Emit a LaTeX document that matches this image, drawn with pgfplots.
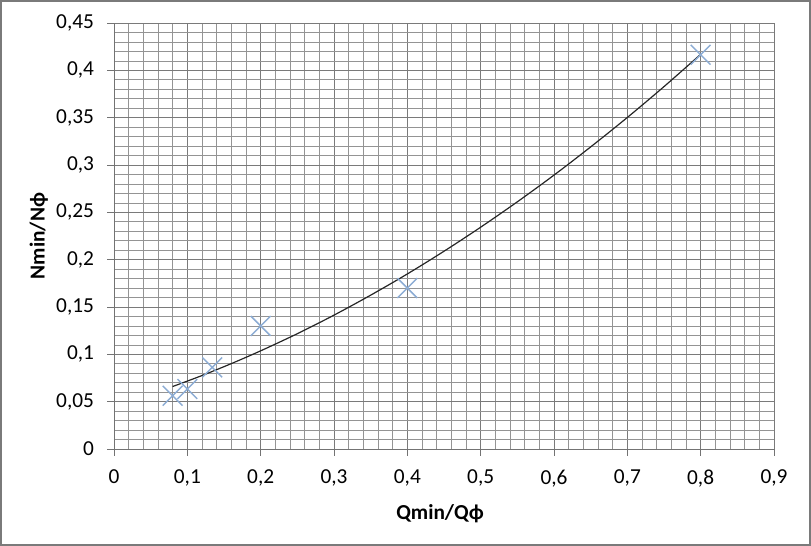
\documentclass[border=0pt]{standalone}
\usepackage{fontspec}
\setmainfont{Carlito}
\usepackage{pgfplots}
\pgfplotsset{compat=1.18}
\definecolor{mk}{RGB}{140,172,212}
\begin{document}
\begin{tikzpicture}
\useasboundingbox (-85.5pt,-72.75pt) rectangle (522.75pt,336.75pt);
\draw[black!52, line width=1.5pt] (-84.5pt,-71.75pt) rectangle (521.75pt,335.75pt);
\begin{axis}[
  scale only axis, width=495pt, height=319.5pt,
  xmin=0, xmax=0.9, ymin=0, ymax=0.45,
  xtick={0,0.1,0.2,0.3,0.4,0.5,0.6,0.7,0.8,0.9},
  xticklabels={0,{0,1},{0,2},{0,3},{0,4},{0,5},{0,6},{0,7},{0,8},{0,9}},
  ytick={0,0.05,0.1,0.15,0.2,0.25,0.3,0.35,0.4,0.45},
  yticklabels={0,{0,05},{0,1},{0,15},{0,2},{0,25},{0,3},{0,35},{0,4},{0,45}},
  minor x tick num=4, minor y tick num=4,
  grid=both,
  major grid style={black!52, line width=0.6pt},
  minor grid style={black!42, line width=0.5pt},
  axis lines*=left,
  axis line style={-, black!55, line width=0.7pt},
  tick align=outside,
  major tick length=5pt, minor tick length=0pt,
  tick style={black!55, line width=0.7pt},
  tick label style={font=\fontsize{16}{19}\selectfont},
  xticklabel style={yshift=-7pt},
  yticklabel style={xshift=-6.5pt},
  xlabel={Qmin/Qϕ}, ylabel={Nmin/Nϕ},
  every axis x label/.style={at={(axis description cs:0.494,-0.153)}, anchor=center, font=\fontsize{16}{19}\selectfont\bfseries},
  every axis y label/.style={at={(axis description cs:-0.114,0.5)}, rotate=90, anchor=center, font=\fontsize{16}{19}\selectfont\bfseries},
  clip=false,
]
\addplot[black!85, line width=0.9pt, smooth] coordinates {
(0.08,0.0660) (0.12,0.0776) (0.16,0.0902) (0.2,0.1037) (0.25,0.1218)
(0.3,0.1414) (0.35,0.1625) (0.4,0.1849) (0.45,0.2089) (0.5,0.2343)
(0.55,0.2611) (0.6,0.2893) (0.65,0.3191) (0.7,0.3502) (0.75,0.3828) (0.8,0.4169)
};
\addplot[only marks, mark=x, mark size=10.5pt, mk, mark options={line width=1.1pt}] coordinates {
(0.08,0.0563) (0.1,0.0634) (0.134,0.0862) (0.2,0.130) (0.4,0.170) (0.8,0.4165)
};
\end{axis}
\end{tikzpicture}
\end{document}
